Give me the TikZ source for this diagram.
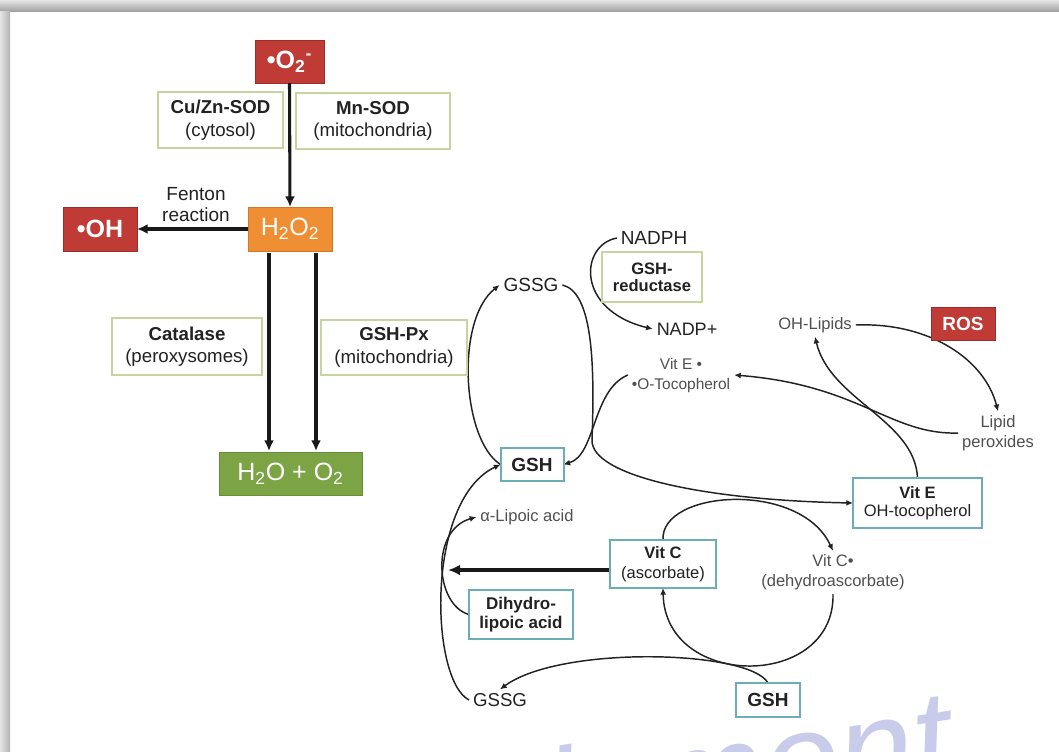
\documentclass[tikz,border=0pt]{standalone}
\usepackage{fontspec}
\setmainfont{Liberation Sans}
\usetikzlibrary{arrows.meta,calc,backgrounds}
\definecolor{rosred}{RGB}{192,58,54}
\definecolor{h2oor}{RGB}{240,142,52}
\definecolor{grn}{RGB}{124,164,68}
\definecolor{enzb}{RGB}{200,212,160}
\definecolor{cyb}{RGB}{108,174,184}
\definecolor{txt}{RGB}{34,34,34}
\definecolor{txtl}{RGB}{80,80,80}
\definecolor{wm}{RGB}{200,203,234}
\newcommand{\fsz}[2]{\fontsize{#1}{#2}\selectfont}
\begin{document}
\begin{tikzpicture}[x=0.75pt,y=-0.75pt,
  every node/.style={inner sep=0pt,outer sep=0pt},
  bw/.style={minimum width=#1*0.75pt},
  bh/.style={minimum height=#1*0.75pt},
  redbox/.style={fill=rosred,draw=rosred!80!black,line width=0.6pt,text=white,font=\fsz{18.75}{20}\bfseries},
  orbox/.style={fill=h2oor,draw=h2oor!85!black,line width=0.6pt,text=white,font=\fsz{18.75}{20}},
  grbox/.style={fill=grn,draw=grn!85!black,line width=0.6pt,text=white,font=\fsz{18.75}{20}},
  enz/.style={fill=white,draw=enzb,line width=1.5pt,align=center,text=txt,font=\fsz{14}{17}},
  cybox/.style={fill=white,draw=cyb,line width=1.5pt,align=center,text=txt},
  lab/.style={inner sep=3pt,align=center,text=txt},
  slab/.style={inner sep=3pt,align=center,text=txtl,font=\fsz{12.4}{15}},
  bigar/.style={line width=2.3pt,draw=black!90,-{Latex[length=8pt,width=7.5pt]}},
  cur/.style={line width=1.1pt,draw=txt,-{Latex[length=5pt,width=4.5pt]}},
]
\useasboundingbox (0,0) rectangle (1059,751);

% ---- left part
\node[redbox,bw=69,bh=43] (O2) at (289.5,61.5) {•O\textsubscript{2}\textsuperscript{-}};
\node[enz,bw=125,bh=56] (CuZn) at (220.5,120) {\textbf{Cu/Zn-SOD}\\(cytosol)};
\node[enz,bw=154,bh=56] (Mn) at (373,121) {\textbf{Mn-SOD}\\(mitochondria)};
\node[orbox,bw=84,bh=44] (H2O2) at (290,229) {H\textsubscript{2}O\textsubscript{2}};
\node[redbox,bw=74,bh=44] (OH) at (100,229) {•OH};
\node[lab,font=\fsz{14.25}{15.75}] (Fenton) at (196,205) {Fenton\\reaction};
\node[enz,bw=150,bh=57] (Cat) at (187,346.5) {\textbf{Catalase}\\(peroxysomes)};
\node[enz,bw=146,bh=55] (GPx) at (394,347.5) {\textbf{GSH-Px}\\(mitochondria)};
\node[grbox,bw=143,bh=43] (H2Ox) at (290.5,473.5) {H\textsubscript{2}O + O\textsubscript{2}};

\draw[bigar] (O2.south) -- (H2O2.north);
\draw[bigar] (H2O2.west) -- (OH.east);
\draw[bigar] ($(H2O2.south)+(-21,2)$) -- ($(H2Ox.north)+(-21.5,-1)$);
\draw[bigar] ($(H2O2.south)+(26,2)$) -- ($(H2Ox.north)+(25.5,-1)$);

% ---- right part
\node[lab,font=\fsz{14.25}{16}] (GSSGa) at (531,285) {GSSG};
\node[lab,font=\fsz{14.25}{16}] (NADPH) at (654,238) {NADPH};
\node[enz,bw=100,bh=50,font=\fsz{12.4}{12.75}\bfseries] (GR) at (652,277) {GSH-\\reductase};
\node[lab,font=\fsz{13.5}{16}] (NADP) at (687,329) {NADP+};
\node[slab,font=\fsz{11.6}{15}] (VEd) at (681,375) {Vit E •\\•O-Tocopherol};
\node[slab] (OHL) at (815,325) {OH-Lipids};
\node[redbox,bw=64,bh=33,font=\fsz{14.25}{16}\bfseries] (ROS) at (963,323.5) {ROS};
\node[slab] (LP) at (998,433) {Lipid\\peroxides};
\node[cybox,bw=63,bh=33,font=\fsz{14.25}{16}\bfseries] (GSHa) at (532,464.5) {GSH};
\node[cybox,bw=129,bh=50,font=\fsz{12.4}{13.5}] (VitE) at (917.5,503) {\textbf{Vit E}\\OH-tocopherol};
\node[slab] (ALA) at (527,517) {α-Lipoic acid};
\node[cybox,bw=106,bh=48,font=\fsz{12.4}{15}] (VitC) at (663,564) {\textbf{Vit C}\\(ascorbate)};
\node[slab] (VCd) at (833,572.5) {Vit C•\\(dehydroascorbate)};
\node[cybox,bw=104,bh=49,font=\fsz{12.75}{14.25}\bfseries] (Dih) at (521,614.5) {Dihydro-\\lipoic acid};
\node[lab,font=\fsz{14}{16}] (GSSGb) at (500,700) {GSSG};
\node[cybox,bw=64,bh=34,font=\fsz{14.25}{16}\bfseries] (GSHb) at (768,700) {GSH};
\coordinate (thk) at (448,570);

\begin{pgfonlayer}{background}
  \fill[white] (0,0) rectangle (1059,751);
  \shade[top color=black!10, bottom color=black!36] (0,0) rectangle (1059,11);
  \shade[left color=black!10, right color=black!30] (0,11) rectangle (10,751);
  \begin{scope}
    \clip (10,11) rectangle (1059,751);
    \node[text=wm,font=\fsz{102}{102}\itshape,anchor=base west,rotate=9] (WM) at (413,869) {Is lemont};
  \end{scope}
  \draw[cur] (GSHa.west) .. controls (462,440) and (455,320) .. (GSSGa.west);
  \draw[cur] (GSSGa.east) .. controls (592,292) and (595,360) .. (592,440) .. controls (591,475) and (700,500) .. (VitE.west);
  \draw[cur] (VEd.west) .. controls (592,390) and (596,455) .. (GSHa.east);
  \draw[cur] (NADPH.west) .. controls (580,245) and (575,310) .. (NADP.west);
  \draw[cur] (OHL.east) .. controls (930,322) and (985,360) .. (LP.north);
  \draw[cur] (LP.west) .. controls (890,435) and (860,385) .. (VEd.east);
  \draw[cur] (VitE.north) .. controls (915,420) and (830,400) .. (OHL.south);
  \draw[cur] (VitC.north) .. controls (660,490) and (800,480) .. (VCd.north);
  \draw[cur] (VCd.south) .. controls (835,690) and (665,690) .. (VitC.south);
  \draw[cur] (GSHb.north) .. controls (750,650) and (560,645) .. (GSSGb.north);
  \draw[cur] (GSSGb.west) .. controls (430,680) and (425,500) .. (GSHa.west);
  \draw[cur] (Dih.west) .. controls (435,605) and (430,530) .. (ALA.west);
  \draw[line width=3pt,draw=black!90,-{Latex[length=9pt,width=8pt]}] (VitC.west |- thk) -- (thk);
\end{pgfonlayer}
\end{tikzpicture}
\end{document}
